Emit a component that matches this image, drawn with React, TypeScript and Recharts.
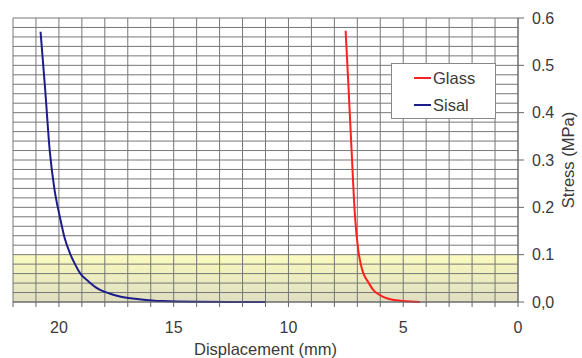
import React from 'react'
import {
  LineChart, Line, XAxis, YAxis, CartesianGrid, ReferenceArea, Label,
} from 'recharts'

// displacement (mm) / stress (MPa)
const SISAL_X = [11, 12.5, 14, 15.5, 16.5, 17.3, 17.8, 18.36, 18.7, 19.08, 19.3, 19.52, 19.75, 19.96, 20.2, 20.4, 20.6, 20.8]
const SISAL_Y = [0, 0.0002, 0.0005, 0.002, 0.006, 0.011, 0.018, 0.03, 0.043, 0.061, 0.08, 0.103, 0.135, 0.18, 0.24, 0.32, 0.45, 0.571]
const GLASS_X = [4.27, 5.0, 5.72, 6.0, 6.3, 6.5, 6.74, 6.85, 6.96, 7.1, 7.25, 7.4, 7.51]
const GLASS_Y = [0, 0.002, 0.008, 0.014, 0.025, 0.04, 0.061, 0.08, 0.11, 0.18, 0.32, 0.47, 0.573]

const X_TICKS = [0, 1, 2, 3, 4, 5, 6, 7, 8, 9, 10, 11, 12, 13, 14, 15, 16, 17, 18, 19, 20, 21, 22]
const Y_TICKS = [0, 0.1, 0.2, 0.3, 0.4, 0.5, 0.6]
const Y_MAX = 0.6
const Y_GRID = [
  0, 0.02, 0.04, 0.06, 0.08, 0.1, 0.12, 0.14, 0.16, 0.18, 0.2, 0.22, 0.24, 0.26, 0.28, 0.3,
  0.32, 0.34, 0.36, 0.38, 0.4, 0.42, 0.44, 0.46, 0.48, 0.5, 0.52, 0.54, 0.56, 0.58, 0.6,
]

const sisal = SISAL_X.map((d, i) => ({ d, s: SISAL_Y[i] }))
const glass = GLASS_X.map((d, i) => ({ d, s: GLASS_Y[i] }))

const FONT = 'Liberation Sans, Arial, sans-serif'
const TXT = '#3a3a3a'

function LegendBox() {
  const row = (color: string, name: string, top: number) => (
    <div style={{ position: 'absolute', left: 22, top, height: 20, display: 'flex', alignItems: 'center' }}>
      <span style={{ display: 'inline-block', width: 17, height: 2, background: color, marginRight: 2 }} />
      <span style={{ fontSize: 16.5, lineHeight: '20px', color: TXT }}>{name}</span>
    </div>
  )
  return (
    <div style={{
      position: 'absolute', left: 391, top: 63, width: 103, height: 54,
      background: '#fff', border: '1px solid #888', fontFamily: FONT,
    }}>
      {row('#ff2020', 'Glass', 4)}
      {row('#1c1c8a', 'Sisal', 31)}
    </div>
  )
}

// grid rows every 0.02 MPa
const gridRows = (props: any) => {
  const scale = props?.yAxis?.scale
  if (typeof scale === 'function') return Y_GRID.map((v) => scale(v))
  if (scale && typeof scale.map === 'function') return Y_GRID.map((v) => scale.map(v))
  const off = props?.offset
  if (!off) return []
  return Y_GRID.map((v) => off.top + off.height * (1 - v / Y_MAX))
}

export default function App() {
  return (
    <div style={{ position: 'absolute', left: 0, top: 0, width: 582, height: 358, background: '#fff' }}>
      <LineChart width={582} height={358} margin={{ top: 18, right: 0, left: 13, bottom: 0 }}
        style={{ fontFamily: FONT }}>
        <defs>
          <linearGradient id="band" x1="0" y1="0" x2="0" y2="1">
            <stop offset="0%" stopColor="#fafab0" />
            <stop offset="100%" stopColor="#d6d6b2" />
          </linearGradient>
        </defs>
        <ReferenceArea y1={0} y2={0.1} fill="url(#band)" fillOpacity={0.8} stroke="none" ifOverflow="hidden"
          zIndex={-200} />
        <CartesianGrid stroke="#777" strokeWidth={1} horizontalCoordinatesGenerator={gridRows} />
        <XAxis type="number" dataKey="d" domain={[0, 22]} reversed ticks={X_TICKS} allowDataOverflow
          height={56} tickSize={5} tickMargin={15} stroke="#666"
          tick={{ fill: TXT, fontSize: 16 }}
          tickFormatter={(v: number) => (v % 5 === 0 ? String(v) : '')}>
          <Label value="Displacement (mm)" position="insideBottom" offset={3} fill={TXT} fontSize={16.5} />
        </XAxis>
        <YAxis type="number" dataKey="s" orientation="right" domain={[0, Y_MAX]} ticks={Y_TICKS} width={64}
          tickSize={6} tickMargin={8} stroke="#666" tick={{ fill: TXT, fontSize: 16 }}
          tickFormatter={(v: number) => (v === 0 ? '0,0' : v.toFixed(1))}>
          <Label value="Stress (MPa)" angle={-90} position="insideRight" offset={14} fill={TXT} fontSize={16.5}
            style={{ textAnchor: 'middle' }} />
        </YAxis>
        <Line data={sisal} dataKey="s" type="monotone" stroke="#1c1c8a" strokeWidth={2} dot={false}
          isAnimationActive={false} />
        <Line data={glass} dataKey="s" type="monotone" stroke="#ff2020" strokeWidth={2} dot={false}
          isAnimationActive={false} />
      </LineChart>
      <LegendBox />
    </div>
  )
}
